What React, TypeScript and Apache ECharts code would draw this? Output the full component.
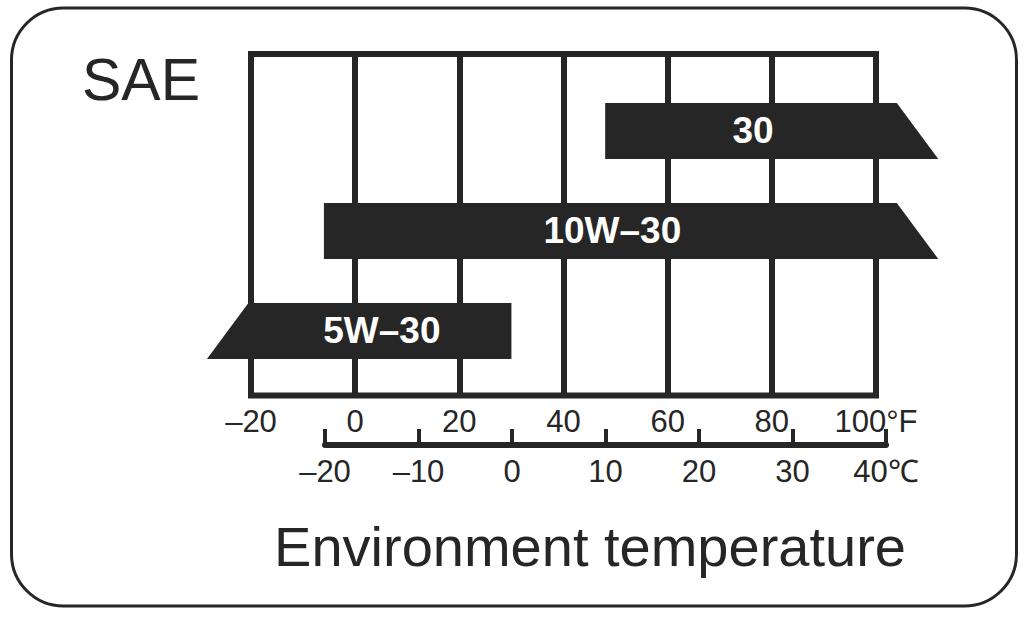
import React, { useEffect, useRef } from "react";
import * as echarts from "echarts";

// Oil grades (top to bottom) and their usable ambient-temperature ranges in °F
const grades = ["30", "10W–30", "5W–30"];
const lowF = [48, -6, -20.5];
const highF = [104, 104, 30];
// which ends are drawn "open" (slanted)
const openLow = [false, false, true];
const openHigh = [true, true, false];

// Axis scales
const fahrenheitMin = -20;
const fahrenheitMax = 100;
const fahrenheitStep = 20;
const celsiusMin = -20;
const celsiusMax = 40;
const celsiusStep = 10;

const title = "SAE";
const axisTitle = "Environment temperature";

const INK = "#262626";
const FONT = "'Liberation Sans', Arial, Helvetica, sans-serif";

const dash = (v: number) => (v < 0 ? "–" + Math.abs(v) : String(v));

export default function App() {
  const ref = useRef<HTMLDivElement>(null);

  useEffect(() => {
    const chart = echarts.init(ref.current!, null, { renderer: "svg" });
    const data = grades.map((g, i) => [
      i,
      lowF[i],
      highF[i],
      openLow[i] ? 1 : 0,
      openHigh[i] ? 1 : 0,
    ]);

    const renderItem = (params: any, api: any) => {
      const cat = api.value(0);
      const start = api.coord([api.value(1), cat]);
      const end = api.coord([api.value(2), cat]);
      const band = api.size([0, 1])[1];
      const h = band * 0.56;
      const slant = h * 0.74;
      const top = start[1] - h / 2;
      const bottom = start[1] + h / 2;
      const lo = api.value(3) ? slant : 0;
      const hi = api.value(4) ? slant : 0;
      return {
        type: "group",
        children: [
          {
            type: "polygon",
            shape: {
              points: [
                [start[0], top],
                [end[0], top],
                [end[0] + hi, bottom],
                [start[0] - lo, bottom],
              ],
            },
            style: { fill: INK },
          },
          {
            type: "text",
            style: {
              text: grades[params.dataIndex],
              x: (start[0] + end[0]) / 2 + 2,
              y: start[1] - 1,
              align: "center",
              verticalAlign: "middle",
              fill: "#ffffff",
              font: `bold 37px ${FONT}`,
            },
          },
        ],
      };
    };

    const labelStyle = {
      color: INK,
      fontFamily: FONT,
      fontSize: 31,
    };

    chart.setOption({
      animation: false,
      backgroundColor: "#ffffff",
      grid: [
        {
          left: 251,
          top: 54,
          width: 625,
          height: 341.5,
          show: true,
          borderColor: INK,
          borderWidth: 6,
          backgroundColor: "transparent",
        },
        { left: 251, top: 81, width: 625, height: 300 },
        { left: 325, top: 400, width: 561, height: 45 },
      ],
      xAxis: [
        {
          gridIndex: 0,
          type: "value",
          min: fahrenheitMin,
          max: fahrenheitMax,
          interval: fahrenheitStep,
          axisLine: { show: false },
          axisTick: { show: false },
          splitLine: { show: true, lineStyle: { color: INK, width: 6 } },
          axisLabel: {
            ...labelStyle,
            margin: 10,
            showMinLabel: true,
            showMaxLabel: true,
            formatter: (v: number) => (v === fahrenheitMax ? v + "°F" : dash(v)),
          },
        },
        {
          gridIndex: 1,
          type: "value",
          min: fahrenheitMin,
          max: fahrenheitMax,
          show: false,
        },
        {
          gridIndex: 2,
          type: "value",
          min: celsiusMin,
          max: celsiusMax,
          interval: celsiusStep,
          axisLine: { show: true, lineStyle: { color: INK, width: 6 } },
          axisTick: {
            show: true,
            inside: true,
            length: 16,
            lineStyle: { color: INK, width: 4 },
          },
          splitLine: { show: false },
          axisLabel: {
            ...labelStyle,
            margin: 11,
            showMinLabel: true,
            showMaxLabel: true,
            formatter: (v: number) => (v === celsiusMax ? v + "℃" : dash(v)),
          },
        },
      ],
      yAxis: [
        { gridIndex: 0, type: "value", show: false },
        {
          gridIndex: 1,
          type: "category",
          data: grades,
          inverse: true,
          show: false,
        },
        { gridIndex: 2, type: "value", show: false },
      ],
      series: [
        {
          type: "custom",
          xAxisIndex: 1,
          yAxisIndex: 1,
          clip: false,
          data,
          encode: { x: [1, 2], y: 0 },
          renderItem,
        },
      ],
      graphic: [
        {
          type: "rect",
          shape: { x: 11.5, y: 8, width: 1005, height: 598, r: 52 },
          style: { fill: "none", stroke: INK, lineWidth: 3 },
          z: 10,
        },
        {
          type: "text",
          style: {
            text: title,
            x: 141,
            y: 80,
            align: "center",
            verticalAlign: "middle",
            fill: INK,
            font: `59px ${FONT}`,
          },
        },
        {
          type: "text",
          style: {
            text: axisTitle,
            x: 590,
            y: 546,
            align: "center",
            verticalAlign: "middle",
            fill: INK,
            font: `56px ${FONT}`,
          },
        },
      ],
    });

    return () => chart.dispose();
  }, []);

  return (
    <div
      ref={ref}
      style={{ position: "fixed", left: 0, top: 0, width: 1034, height: 617 }}
    />
  );
}
